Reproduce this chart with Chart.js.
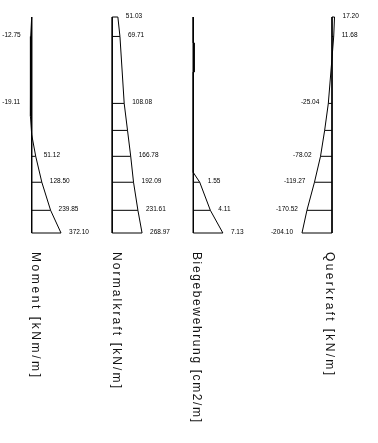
<!DOCTYPE html>
<html>
<head>
<meta charset="utf-8">
<script src="https://cdn.jsdelivr.net/npm/chart.js@4/dist/chart.umd.min.js"></script>
<style>
  html, body { margin: 0; padding: 0; background: #fff; }
  #wrap { width: 378px; height: 443px; }
</style>
</head>
<body>
<div id="wrap"><canvas id="c" width="378" height="443"></canvas></div>
<script>
// ---- data (depth runs from 0 at the top to 10 at the bottom) ----
const panelTitles = ["Moment [kNm/m]", "Normalkraft [kN/m]", "Biegebewehrung [cm2/m]", "Querkraft [kN/m]"];

const momentDepth  = [0, 0.9, 2.2, 4.0, 4.6, 5.45, 6.45, 7.65, 8.95, 10];
const momentValues = [0, -12.75, -15.5, -19.11, -14.0, 0, 51.12, 128.50, 239.85, 372.10];
const momentHatch  = [6.45, 7.65, 8.95, 10];
const momentLabels = [0.9, 4.0, 6.45, 7.65, 8.95, 10];

const normalDepth  = [0, 0.9, 4.0, 5.25, 6.45, 7.65, 8.95, 10];
const normalValues = [51.03, 69.71, 108.08, 138.0, 166.78, 192.09, 231.61, 268.97];
const normalHatch  = [0, 0.9, 4.0, 5.25, 6.45, 7.65, 8.95, 10];
const normalLabels = [0, 0.9, 4.0, 6.45, 7.65, 8.95, 10];

const biegeDepth  = [0, 1.2, 1.2, 2.55, 2.55, 7.2, 7.65, 8.95, 10];
const biegeValues = [0, 0, 0.2, 0.2, 0, 0, 1.55, 4.11, 7.13];
const biegeHatch  = [7.65, 8.95, 10];
const biegeLabels = [7.65, 8.95, 10];

const querDepth  = [0, 0.9, 1.9, 4.0, 5.25, 6.45, 7.65, 8.95, 10];
const querValues = [17.20, 11.68, 0, -25.04, -50.0, -78.02, -119.27, -170.52, -204.10];
const querHatch  = [0, 0.9, 4.0, 5.25, 6.45, 7.65, 8.95, 10];
const querLabels = [0, 0.9, 4.0, 6.45, 7.65, 8.95, 10];

// ---- layout / style (not data) ----
const W = 378;
const panelBase  = [31.7, 112.2, 193.3, 332.0];   // pixel of the zero line
const panelScale = [0.0788, 0.111, 4.15, 0.147];   // pixels per unit
const titleOffset = [4, 4, 3, -3];
const titleLength = [125, 136, 170, 123];          // drawn length of each rotated title
const negGap = [10, 9, 9, 9];                      // gap left of negative values

const panels = [
  { id: 'xm', depth: momentDepth, values: momentValues, hatch: momentHatch, labels: momentLabels },
  { id: 'xn', depth: normalDepth, values: normalValues, hatch: normalHatch, labels: normalLabels },
  { id: 'xb', depth: biegeDepth,  values: biegeValues,  hatch: biegeHatch,  labels: biegeLabels },
  { id: 'xq', depth: querDepth,   values: querValues,   hatch: querHatch,   labels: querLabels }
];

function valueAt(p, d) {
  let v = 0;
  for (let i = 0; i < p.depth.length; i++) if (p.depth[i] === d) v = p.values[i];
  return v;
}

const lineStyle = { borderColor: '#000', borderWidth: 1, pointRadius: 0, fill: false, clip: false, tension: 0 };
const datasets = [];
const scales = {
  y: { type: 'linear', min: 0, max: 10, reverse: true, display: false }
};
panels.forEach((p, i) => {
  scales[p.id] = {
    type: 'linear', axis: 'x', position: 'bottom', display: false,
    min: -panelBase[i] / panelScale[i],
    max: (W - panelBase[i]) / panelScale[i]
  };
  datasets.push(Object.assign({ xAxisID: p.id, yAxisID: 'y',
    data: [{ x: 0, y: 0 }, { x: 0, y: 10 }] }, lineStyle));
  datasets.push(Object.assign({ xAxisID: p.id, yAxisID: 'y',
    data: p.depth.map((d, k) => ({ x: p.values[k], y: d })) }, lineStyle));
  p.hatch.forEach(d => {
    datasets.push(Object.assign({ xAxisID: p.id, yAxisID: 'y',
      data: [{ x: 0, y: d }, { x: valueAt(p, d), y: d }] }, lineStyle));
  });
});

const textPlugin = {
  id: 'texts',
  afterDatasetsDraw(chart) {
    const ctx = chart.ctx;
    const ys = chart.scales.y;
    ctx.save();
    ctx.fillStyle = '#000';
    ctx.font = '6.5px "Liberation Sans", Arial, sans-serif';
    ctx.textBaseline = 'middle';
    panels.forEach((p, i) => {
      const xs = chart.scales[p.id];
      p.labels.forEach(d => {
        const v = valueAt(p, d);
        const px = xs.getPixelForValue(v);
        const py = ys.getPixelForValue(d) - 1;
        const txt = v.toFixed(2);
        if (v >= 0) { ctx.textAlign = 'left'; ctx.fillText(txt, px + 8, py); }
        else { ctx.textAlign = 'right'; ctx.fillText(txt, px - negGap[i], py); }
      });
    });
    ctx.font = '12px "Liberation Sans", Arial, sans-serif';
    ctx.fillStyle = '#111';
    ctx.textAlign = 'left';
    ctx.textBaseline = 'middle';
    panels.forEach((p, i) => {
      const cx = chart.scales[p.id].getPixelForValue(0) + titleOffset[i];
      const chars = Array.from(panelTitles[i]);
      const plain = chars.reduce((s, ch) => s + ctx.measureText(ch).width, 0);
      const spacing = (titleLength[i] - plain) / (chars.length - 1);
      ctx.save();
      ctx.translate(cx, 252);
      ctx.rotate(Math.PI / 2);
      let x = 0;
      for (const ch of chars) {
        ctx.fillText(ch, x, 0);
        x += ctx.measureText(ch).width + spacing;
      }
      ctx.restore();
    });
    ctx.restore();
  }
};

new Chart(document.getElementById('c'), {
  type: 'line',
  data: { datasets },
  options: {
    responsive: false,
    animation: false,
    layout: { padding: { top: 17, bottom: 210, left: 0, right: 0 } },
    plugins: { legend: { display: false }, tooltip: { enabled: false }, title: { display: false } },
    scales
  },
  plugins: [textPlugin]
});
</script>
</body>
</html>
